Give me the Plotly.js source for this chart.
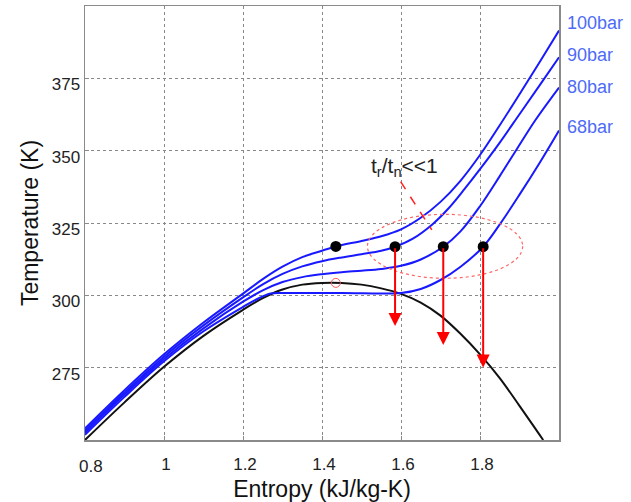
<!DOCTYPE html>
<html>
<head>
<meta charset="utf-8">
<script src="https://cdn.plot.ly/plotly-3.0.1.min.js"></script>
<style>html,body{margin:0;padding:0;background:#fff;}#chart{width:631px;height:502px;}</style>
</head>
<body>
<div id="chart"></div>
<script>
// Saturation dome (black)
const domeS = [0.8, 0.9, 1.0, 1.1, 1.2, 1.25, 1.3, 1.35, 1.4, 1.45, 1.5, 1.55, 1.6, 1.65, 1.7, 1.75, 1.8, 1.85, 1.9, 1.96];
const domeT = [250, 263.0, 275.3, 286.0, 295.0, 299.0, 302.0, 303.7, 304.3, 304.3, 303.7, 302.4, 300.5, 297.5, 293.0, 286.8, 279.6, 271.4, 261.8, 250];

// Isobars (blue)
const s100 = [0.8, 0.9, 1.0, 1.1, 1.2, 1.25, 1.3, 1.35, 1.4, 1.435, 1.5, 1.55, 1.6, 1.65, 1.7, 1.75, 1.8, 1.85, 1.9, 1.95, 2.0];
const t100 = [254.0, 267.2, 279.6, 290.6, 300.6, 305.6, 309.9, 313.2, 315.4, 316.9, 318.8, 320.4, 322.8, 326.8, 332.3, 339.5, 348.5, 358.8, 369.5, 380.4, 391.5];

const s90 = [0.8, 0.9, 1.0, 1.1, 1.2, 1.25, 1.3, 1.35, 1.4, 1.45, 1.5, 1.55, 1.585, 1.63, 1.68, 1.72, 1.76, 1.8, 1.85, 1.9, 1.95, 2.0];
const t90 = [253.2, 266.4, 278.8, 289.6, 299.3, 303.8, 307.4, 310.0, 311.8, 313.1, 314.2, 315.4, 316.8, 319.6, 324.6, 330.0, 336.6, 343.6, 352.8, 362.6, 372.4, 382.3];

const s80 = [0.8, 0.9, 1.0, 1.1, 1.2, 1.25, 1.3, 1.35, 1.4, 1.45, 1.5, 1.55, 1.6, 1.65, 1.707, 1.75, 1.8, 1.85, 1.889, 1.94, 2.0];
const t80 = [252.5, 265.7, 278.0, 288.6, 297.8, 301.7, 304.6, 306.3, 307.3, 308.0, 308.5, 309.1, 310.2, 312.4, 316.8, 322.0, 330.8, 341.2, 349.6, 360.5, 371.8];

const s68 = [0.8, 0.9, 1.0, 1.1, 1.2, 1.24, 1.27, 1.3, 1.45, 1.6, 1.65, 1.7, 1.75, 1.808, 1.85, 1.9, 1.95, 2.0];
const t68 = [251.8, 264.9, 277.2, 287.6, 296.0, 299.0, 300.6, 300.8, 300.8, 300.8, 302.2, 305.3, 309.8, 316.8, 324.5, 334.8, 345.6, 357.0];

// State points (black dots) and critical point
const dotS = [1.435, 1.585, 1.707, 1.808];
const dotT = [316.9, 316.8, 316.8, 316.8];
const critS = [1.435];
const critT = [304.3];

// Expansion arrows (from dots down to tips)
const arrowS = [1.585, 1.707, 1.808];
const arrowTopT = [316.8, 316.8, 316.8];
const arrowTipT = [289.4, 282.8, 275.1];

// Isobar labels
const isoLabels = ['100bar', '90bar', '80bar', '68bar'];
const isoLabelT = [394.2, 383.1, 371.9, 358.1];

// Ellipse bounds and leader line
const ellS = [1.515, 1.908];
const ellT = [305.9, 328.0];
const leaderS = [1.599, 1.678];
const leaderT = [339.3, 322.6];

// Axis ticks
const xTicks = [1.0, 1.2, 1.4, 1.6, 1.8];
const xTickText = ['1', '1.2', '1.4', '1.6', '1.8'];
const xFirstTick = 0.8;
const yTicks = [275, 300, 325, 350, 375];
const yTickText = ['275', '300', '325', '350', '375'];

const FONT = 'Liberation Sans, Arial, sans-serif';
const BLUE = 'rgb(25,25,255)';

const isoLine = (s, t, name) => ({
  x: s, y: t, type: 'scatter', mode: 'lines', name: name,
  line: {color: BLUE, width: 2, shape: 'spline', smoothing: 1.0},
  hoverinfo: 'skip'
});

const traces = [
  {x: domeS, y: domeT, type: 'scatter', mode: 'lines', name: 'dome',
   line: {color: '#111', width: 2, shape: 'spline', smoothing: 1.0}},
  isoLine(s68, t68, '68bar'),
  isoLine(s80, t80, '80bar'),
  isoLine(s90, t90, '90bar'),
  isoLine(s100, t100, '100bar'),
  {x: critS, y: critT, type: 'scatter', mode: 'markers', name: 'critical',
   marker: {symbol: 'circle-open', size: 9, color: '#ff5555', line: {width: 1}}},
  {x: dotS, y: dotT, type: 'scatter', mode: 'markers', name: 'states',
   marker: {size: 11, color: '#000'}}
];

const annotations = [];
arrowS.forEach((s, i) => {
  annotations.push({
    x: s, y: arrowTipT[i], ax: s, ay: arrowTopT[i],
    xref: 'x', yref: 'y', axref: 'x', ayref: 'y',
    text: '', showarrow: true, arrowhead: 2, arrowsize: 1.3,
    arrowwidth: 2, arrowcolor: '#ff0000', standoff: 0, startstandoff: 0
  });
});
isoLabels.forEach((lab, i) => {
  annotations.push({
    x: 1.0127, xref: 'paper', y: isoLabelT[i], yref: 'y',
    xanchor: 'left', yanchor: 'middle', showarrow: false, text: lab,
    font: {family: FONT, size: 18, color: '#4d6bf8'}
  });
});
annotations.push({
  x: 1.61, y: 344.5, xref: 'x', yref: 'y', showarrow: false,
  text: 't<sub>r</sub>/t<sub>n</sub>&lt;&lt;1',
  font: {family: FONT, size: 21, color: '#222'}, xanchor: 'center', yanchor: 'middle'
});
annotations.push({
  x: xFirstTick, xref: 'x', y: -0.062, yref: 'paper', showarrow: false, text: String(xFirstTick),
  xanchor: 'center', yanchor: 'middle', xshift: 6,
  font: {family: FONT, size: 17, color: '#222'}
});

const shapes = [
  {type: 'circle', xref: 'x', yref: 'y', x0: ellS[0], x1: ellS[1], y0: ellT[0], y1: ellT[1],
   line: {color: '#ff6666', width: 1.2, dash: 'dot'}},
  {type: 'line', xref: 'x', yref: 'y', x0: leaderS[0], y0: leaderT[0], x1: leaderS[1], y1: leaderT[1],
   line: {color: '#ff2222', width: 1.5, dash: 'dash'}}
];

const axisCommon = {
  showgrid: true, gridcolor: '#888', griddash: 'dot', gridwidth: 1,
  showline: true, mirror: true, linecolor: '#8a8a8a', linewidth: 1.5,
  ticks: 'inside', ticklen: 4, tickcolor: '#8a8a8a', zeroline: false,
  tickfont: {family: FONT, size: 17, color: '#222'}, tickmode: 'array'
};

const layout = {
  width: 631, height: 502,
  margin: {l: 85, r: 72, t: 6, b: 62, pad: 0},
  paper_bgcolor: '#fff', plot_bgcolor: '#fff',
  showlegend: false,
  font: {family: FONT},
  xaxis: Object.assign({}, axisCommon, {
    range: [0.8, 2.0], tickvals: xTicks, ticktext: xTickText,
    ticklabelstandoff: 8, ticklabelshift: 2,
    title: {text: 'Entropy (kJ/kg-K)', font: {family: FONT, size: 23, color: '#111'}, standoff: 8}
  }),
  yaxis: Object.assign({}, axisCommon, {
    range: [250, 400], tickvals: yTicks, ticktext: yTickText,
    ticklabelstandoff: 0, ticklabelshift: 6,
    title: {text: 'Temperature (K)', font: {family: FONT, size: 23, color: '#111'}, standoff: 6}
  }),
  annotations: annotations,
  shapes: shapes
};

Plotly.newPlot('chart', traces, layout, {displayModeBar: false, staticPlot: true});
</script>
</body>
</html>
